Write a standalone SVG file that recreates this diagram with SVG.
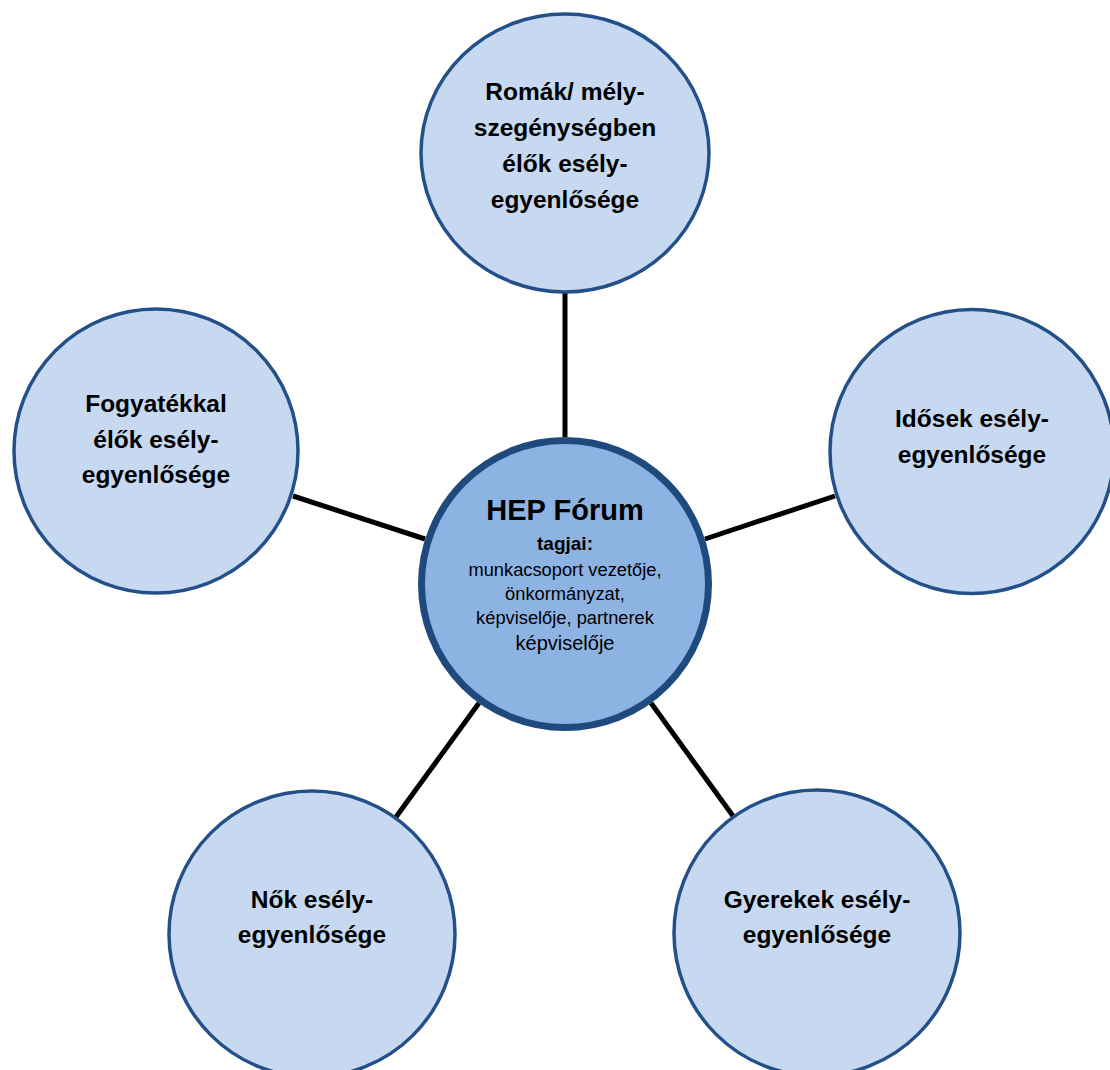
<svg xmlns="http://www.w3.org/2000/svg" width="1110" height="1070" viewBox="0 0 1110 1070">
<style>
.outer{fill:#C6D9F1;stroke:#24508A;stroke-width:3.5}
.hub{fill:#8DB3E2;stroke:#1F4A7E;stroke-width:7}
.lbl{font-family:"Liberation Sans",Arial,sans-serif;font-weight:bold;font-size:24.5px;fill:#000;text-anchor:middle}
.t{font-family:"Liberation Sans",Arial,sans-serif;fill:#000;text-anchor:middle}
.conn line{stroke:#000;stroke-width:5}
</style>
<rect width="1110" height="1070" fill="#fff"/>
<g id="connectors" class="conn">
<line x1="565" y1="437" x2="565" y2="292"/>
<line x1="425" y1="539" x2="293" y2="496"/>
<line x1="705" y1="539" x2="835" y2="496"/>
<line x1="479" y1="703" x2="396" y2="817"/>
<line x1="651" y1="703" x2="733" y2="816"/>
</g>
<g id="node-romak">
<ellipse class="outer" cx="565" cy="153" rx="144" ry="139"/>
<text class="lbl" x="565" y="100">Romák/ mély-</text>
<text class="lbl" x="565" y="136">szegénységben</text>
<text class="lbl" x="565" y="172">élők esély-</text>
<text class="lbl" x="565" y="208">egyenlősége</text>
</g>
<g id="node-fogyatekkal">
<circle class="outer" cx="156" cy="451" r="142"/>
<text class="lbl" x="156" y="412">Fogyatékkal</text>
<text class="lbl" x="156" y="448">élők esély-</text>
<text class="lbl" x="156" y="483">egyenlősége</text>
</g>
<g id="node-idosek">
<circle class="outer" cx="972" cy="451.5" r="142"/>
<text class="lbl" x="972" y="427">Idősek esély-</text>
<text class="lbl" x="972" y="463">egyenlősége</text>
</g>
<g id="node-nok">
<circle class="outer" cx="312" cy="934" r="143"/>
<text class="lbl" x="312" y="908">Nők esély-</text>
<text class="lbl" x="312" y="943">egyenlősége</text>
</g>
<g id="node-gyerekek">
<circle class="outer" cx="817" cy="933" r="143"/>
<text class="lbl" x="817" y="908">Gyerekek esély-</text>
<text class="lbl" x="817" y="943">egyenlősége</text>
</g>
<g id="node-hep">
<circle class="hub" cx="565" cy="584" r="143.5"/>
<text class="t" x="565" y="520" font-weight="bold" font-size="29">HEP Fórum</text>
<text class="t" x="565" y="550" font-weight="bold" font-size="19">tagjai:</text>
<text class="t" x="565" y="576" font-size="18.3">munkacsoport vezetője,</text>
<text class="t" x="565" y="600" font-size="18.3">önkormányzat,</text>
<text class="t" x="565" y="624" font-size="18.3">képviselője, partnerek</text>
<text class="t" x="565" y="650" font-size="20">képviselője</text>
</g>
</svg>
